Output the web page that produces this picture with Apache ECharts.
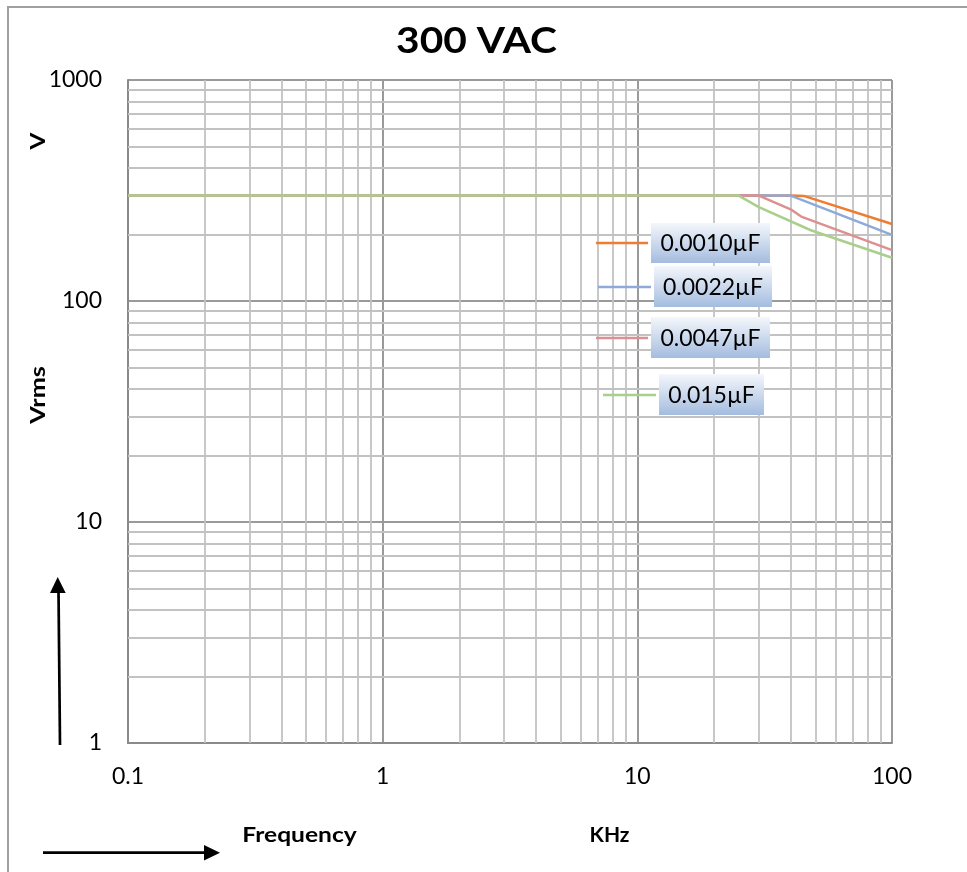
<!DOCTYPE html>
<html>
<head>
<meta charset="utf-8">
<script src="https://cdn.jsdelivr.net/npm/echarts@6/dist/echarts.min.js"></script>
<style>
html,body{margin:0;padding:0;background:#fff;}
#chart{width:967px;height:872px;}
</style>
</head>
<body>
<div id="chart"></div>
<script>
// ---- data ----
const seriesNames = ['0.0010\u00b5F', '0.0022\u00b5F', '0.0047\u00b5F', '0.015\u00b5F'];
const freqC1 = [0.1, 40, 45, 100];
const voltC1 = [300, 300, 299, 223];
const freqC2 = [0.1, 40, 100];
const voltC2 = [300, 300, 199];
const freqC3 = [0.1, 30, 40, 44, 100];
const voltC3 = [300, 300, 260, 241, 170];
const freqC4 = [0.1, 25, 30, 48, 100];
const voltC4 = [300, 300, 266, 209, 157];
const minorGridX = [0.2,0.3,0.4,0.5,0.6,0.7,0.8,0.9, 2,3,4,5,6,7,8,9, 20,30,40,50,60,70,80,90];
const minorGridY = [2,3,4,5,6,7,8,9, 20,30,40,50,60,70,80,90, 200,300,400,500,600,700,800,900];

const colors = ['#ed7d31', '#8eaadb', '#dc9190', '#a9cf8c'];
const FONT = 'Lato';

function zip(f, v){ return f.map((x,i)=>[x, v[i]]); }
const allData = [zip(freqC1, voltC1), zip(freqC2, voltC2), zip(freqC3, voltC3), zip(freqC4, voltC4)];

const chart = echarts.init(document.getElementById('chart'), null, {renderer:'canvas'});

const gridSeries = {
  type: 'line',
  data: [[0.1, 1]],
  showSymbol: false,
  lineStyle: {opacity: 0},
  silent: true,
  z: 1,
  animation: false,
  markLine: {
    silent: true,
    symbol: ['none','none'],
    label: {show:false},
    animation: false,
    lineStyle: {color:'#c2c2c2', width:1.8, type:'solid'},
    data: minorGridX.map(x=>({xAxis:x})).concat(minorGridY.map(y=>({yAxis:y})))
  }
};

const dataSeries = allData.map((d,i)=>({
  name: seriesNames[i],
  type: 'line',
  data: d,
  showSymbol: false,
  z: 5,
  lineStyle: {color: colors[i], width: 2.5},
  itemStyle: {color: colors[i]},
  animation: false
}));

// legend boxes
const legendBoxes = [
  {lx1:596, lx2:648, ly:243, bx:651, by:223, bw:119, bh:40},
  {lx1:598, lx2:651, ly:287, bx:654, by:266, bw:118, bh:41},
  {lx1:596, lx2:648, ly:338, bx:651, by:317, bw:119, bh:41},
  {lx1:603, lx2:656, ly:395, bx:659, by:374, bw:105, bh:41}
];
const graphics = [];
legendBoxes.forEach((b,i)=>{
  graphics.push({type:'line', shape:{x1:b.lx1,y1:b.ly,x2:b.lx2,y2:b.ly}, style:{stroke:colors[i], lineWidth:2.5}, z:10});
  graphics.push({type:'rect', shape:{x:b.bx,y:b.by,width:b.bw,height:b.bh},
    style:{fill:{type:'linear',x:0,y:0,x2:0,y2:1,colorStops:[{offset:0,color:'#f4f7fb'},{offset:1,color:'#a4bcdf'}]}}, z:10});
  graphics.push({type:'text', x:b.bx+b.bw/2, y:b.by+b.bh/2+1, style:{text:seriesNames[i], fill:'#000', font:'23px '+FONT, align:'center', verticalAlign:'middle'}, z:11});
});
// outer border
graphics.push({type:'polyline', shape:{points:[[8,872],[8,7],[967,7]]}, style:{stroke:'#a0a0a0', lineWidth:2, fill:null}, z:0});
// title
graphics.push({type:'text', x:476.5, y:41, scaleX:1.1, style:{text:'300 VAC', fill:'#000', font:'bold 37px '+FONT, align:'center', verticalAlign:'middle'}});
// y names
graphics.push({type:'text', x:38, y:141, rotation:Math.PI/2, scaleX:1.15, style:{text:'V', fill:'#000', font:'bold 21px '+FONT, align:'center', verticalAlign:'middle'}});
graphics.push({type:'text', x:38, y:395, rotation:Math.PI/2, scaleX:1.2, style:{text:'Vrms', fill:'#000', font:'bold 21px '+FONT, align:'center', verticalAlign:'middle'}});
// x names
graphics.push({type:'text', x:299.5, y:835, scaleX:1.17, style:{text:'Frequency', fill:'#000', font:'bold 21px '+FONT, align:'center', verticalAlign:'middle'}});
graphics.push({type:'text', x:609.5, y:835, style:{text:'KHz', fill:'#000', font:'bold 21px '+FONT, align:'center', verticalAlign:'middle'}});
// arrows
graphics.push({type:'line', shape:{x1:60,y1:745,x2:58.5,y2:590}, style:{stroke:'#000', lineWidth:2.7}});
graphics.push({type:'polygon', shape:{points:[[57.7,577],[50,593],[65.7,593]]}, style:{fill:'#000'}});
graphics.push({type:'line', shape:{x1:43,y1:852.7,x2:206,y2:852.7}, style:{stroke:'#000', lineWidth:2.7}});
graphics.push({type:'polygon', shape:{points:[[220,852.7],[204,845],[204,860.5]]}, style:{fill:'#000'}});

const option = {
  backgroundColor: '#fff',
  animation: false,
  grid: {left:128, top:80, right:75, bottom:129, containLabel:false},
  xAxis: {
    type: 'log', logBase: 10, min: 0.1, max: 100,
    axisLine: {show:true, lineStyle:{color:'#8a8a8a', width:2}},
    axisTick: {show:false},
    axisLabel: {show:true, margin:22, color:'#000', fontFamily:FONT, fontSize:23,
      showMinLabel:true, showMaxLabel:true,
      formatter: v => String(+v.toPrecision(3))},
    splitLine: {show:true, lineStyle:{color:'#9a9a9a', width:2}},
    minorSplitLine: {show:false}
  },
  yAxis: {
    type: 'log', logBase: 10, min: 1, max: 1000,
    axisLine: {show:true, onZero:false, lineStyle:{color:'#8a8a8a', width:2}},
    axisTick: {show:false},
    axisLabel: {show:true, margin:26, color:'#000', fontFamily:FONT, fontSize:23,
      showMinLabel:true, showMaxLabel:true,
      formatter: v => String(Math.round(v))},
    splitLine: {show:true, lineStyle:{color:'#9a9a9a', width:2}}
  },
  series: [gridSeries].concat(dataSeries),
  graphic: graphics
};
chart.setOption(option);
</script>
</body>
</html>
